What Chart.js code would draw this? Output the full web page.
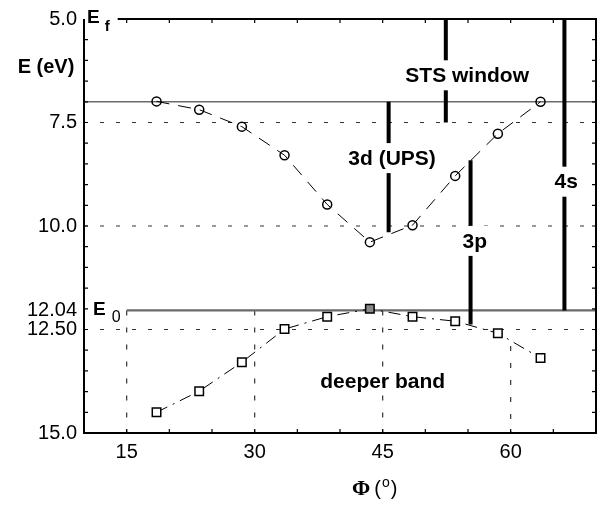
<!DOCTYPE html>
<html>
<head>
<meta charset="utf-8">
<script src="https://cdn.jsdelivr.net/npm/chart.js@4.4.0/dist/chart.umd.min.js"></script>
<style>
  html, body { margin: 0; padding: 0; background: #fff; }
</style>
</head>
<body>
<canvas id="grafico" width="601" height="510"></canvas>
<script>
// emission angle Φ (deg) and binding energies (eV) of the two bands
const phi = [18.5, 23.5, 28.5, 33.5, 38.5, 43.5, 48.5, 53.5, 58.5, 63.5];
const upperBand = [6.99, 7.19, 7.60, 8.29, 9.48, 10.39, 9.98, 8.79, 7.77, 7.00];
const deeperBand = [14.50, 13.99, 13.29, 12.49, 12.19, 12.00, 12.19, 12.30, 12.59, 13.19];

const xTicks = [15, 30, 45, 60];
const yTicks = [5.0, 7.5, 10.0, 12.04, 12.5, 15.0];
const yTickLabels = ['5.0', '7.5', '10.0', '12.04', '12.50', '15.0'];

// dotted reference energies across the whole plot
const dottedLevels = [7.5, 10.0, 12.5];
// solid grey levels and the angle where each one starts
const solidLevels = [7.0, 12.04];
const solidFrom = [10, 15];
// dotted verticals in the lower panel
const dropPhi = [15, 30, 45, 60];
const dropFrom = [12.04, 12.04, 12.04, 12.9];

// thick bars marking the probing windows
const barNames = ['STS window', '3d (UPS)', '3p', '4s'];
const barPhi = [52.4, 45.7, 55.3, 66.3];
const barTop = [5.0, 7.0, 8.41, 5.0];
const barBottom = [7.5, 10.15, 12.38, 12.04];
const barLabelPhi = [54.9, 46.1, 55.8, 66.5];
const barLabelE = [6.36, 8.36, 10.36, 8.93];

const FONT = "'Liberation Sans', Arial, sans-serif";

function seg(x1, y1, x2, y2) {
  return [{ x: x1, y: y1 }, { x: x2, y: y2 }];
}

const datasets = [];

datasets.push({
  data: phi.map((p, i) => ({ x: p, y: upperBand[i] })),
  showLine: true, borderColor: '#000', borderWidth: 1, borderDash: [13, 9],
  pointStyle: 'circle', pointRadius: 4.5, pointBorderWidth: 1.5,
  pointBorderColor: '#000', pointBackgroundColor: 'rgba(0,0,0,0)', order: 2
});

const minIdx = deeperBand.indexOf(Math.min(...deeperBand));
datasets.push({
  data: phi.map((p, i) => ({ x: p, y: deeperBand[i] })),
  showLine: true, borderColor: '#000', borderWidth: 1, borderDash: [12, 6, 2, 6],
  pointStyle: 'rect', pointRadius: 6, pointBorderWidth: 1.5,
  pointBorderColor: '#000',
  pointBackgroundColor: deeperBand.map((v, i) => i === minIdx ? '#888' : '#fff'),
  order: 2
});

dottedLevels.forEach(e => datasets.push({
  data: seg(10, e, 70, e), showLine: true, borderColor: '#333', borderWidth: 1.2,
  borderDash: [4, 12], pointRadius: 0, order: 5
}));

solidLevels.forEach((e, i) => datasets.push({
  data: seg(solidFrom[i], e, 70, e), showLine: true, borderColor: '#6a6a6a',
  borderWidth: i === 0 ? 1.5 : 2.2, pointRadius: 0, order: 4
}));

dropPhi.forEach((p, i) => datasets.push({
  data: seg(p, dropFrom[i], p, 15), showLine: true, borderColor: '#333', borderWidth: 1.2,
  borderDash: [5, 12], pointRadius: 0, order: 5
}));

barPhi.forEach((p, i) => datasets.push({
  data: seg(p, barTop[i], p, barBottom[i]), showLine: true, borderColor: '#000',
  borderWidth: 4, pointRadius: 0, order: 1
}));

// frame, inward ticks and all the text drawn over the plot
const overlay = {
  id: 'overlay',
  afterDraw(chart) {
    const { ctx, chartArea: a, scales: { x, y } } = chart;
    ctx.save();
    ctx.fillStyle = '#000';

    // E_f at the top left corner
    ctx.textBaseline = 'middle';
    ctx.textAlign = 'left';
    ctx.font = 'bold 19px ' + FONT;
    ctx.fillText('E', a.left + 3, a.top - 1);
    const eW = ctx.measureText('E').width;
    ctx.font = 'bold 15px ' + FONT;
    ctx.fillText('f', a.left + 3 + eW + 5, a.top + 8);
    const efEnd = a.left + 3 + eW + 5 + ctx.measureText('f').width + 8;

    // frame
    ctx.strokeStyle = '#000';
    ctx.lineWidth = 2;
    ctx.beginPath();
    ctx.moveTo(efEnd, a.top);
    ctx.lineTo(a.right, a.top);
    ctx.lineTo(a.right, a.bottom);
    ctx.lineTo(a.left, a.bottom);
    ctx.lineTo(a.left, a.top);
    ctx.stroke();

    // inward ticks
    ctx.lineWidth = 1.2;
    ctx.beginPath();
    for (let v = 15; v < 70; v += 5) {
      const px = x.getPixelForValue(v);
      ctx.moveTo(px, a.bottom); ctx.lineTo(px, a.bottom - 4);
      if (px > efEnd) { ctx.moveTo(px, a.top); ctx.lineTo(px, a.top + 4); }
    }
    for (let v = 5.5; v < 15; v += 0.5) {
      const py = y.getPixelForValue(v);
      ctx.moveTo(a.left, py); ctx.lineTo(a.left + 4, py);
      ctx.moveTo(a.right, py); ctx.lineTo(a.right - 4, py);
    }
    ctx.stroke();

    // bar labels on a white box that breaks the bar
    ctx.font = 'bold 21px ' + FONT;
    ctx.textAlign = 'center';
    barNames.forEach((name, i) => {
      const cx = x.getPixelForValue(barLabelPhi[i]);
      const cy = y.getPixelForValue(barLabelE[i]);
      const w = ctx.measureText(name).width;
      ctx.fillStyle = '#fff';
      ctx.fillRect(cx - w / 2 - 1, cy - 15, w + 2, 30);
      ctx.fillStyle = '#000';
      ctx.fillText(name, cx, cy + 1);
    });

    ctx.fillText('deeper band', x.getPixelForValue(45), y.getPixelForValue(13.77));

    // E_0 next to the lower solid level
    ctx.textAlign = 'left';
    ctx.font = 'bold 19px ' + FONT;
    const e0y = y.getPixelForValue(12.04);
    ctx.fillText('E', a.left + 9, e0y - 1);
    ctx.font = '16px ' + FONT;
    ctx.fillText('0', a.left + 9 + eW + 6, e0y + 7);

    // y axis title
    ctx.textAlign = 'center';
    ctx.font = 'bold 20px ' + FONT;
    ctx.fillText('E (eV)', 46, 67);

    // x axis title: Φ (°)
    ctx.textAlign = 'left';
    let tx = 352;
    const ty = 489;
    ctx.font = "bold 22px 'Liberation Serif', 'Times New Roman', serif";
    ctx.fillText('Φ', tx, ty);
    tx += ctx.measureText('Φ').width + 4;
    ctx.font = '20px ' + FONT;
    ctx.fillText('(', tx, ty);
    tx += ctx.measureText('(').width + 1;
    ctx.font = '14px ' + FONT;
    ctx.fillText('o', tx, ty - 6);
    tx += ctx.measureText('o').width + 1;
    ctx.font = '20px ' + FONT;
    ctx.fillText(')', tx, ty);

    ctx.restore();
  }
};

const chart = new Chart(document.getElementById('grafico').getContext('2d'), {
  type: 'scatter',
  data: { datasets },
  options: {
    responsive: false,
    animation: false,
    layout: { padding: { top: 13, right: 5, left: 0, bottom: 0 }, autoPadding: false },
    plugins: { legend: { display: false }, tooltip: { enabled: false } },
    elements: { line: { tension: 0, fill: false } },
    scales: {
      x: {
        type: 'linear', min: 10, max: 70,
        grid: { display: false, drawTicks: false },
        border: { display: false },
        afterBuildTicks: s => { s.ticks = xTicks.map(v => ({ value: v })); },
        afterFit: s => { s.height = 77; },
        ticks: { font: { family: FONT, size: 20 }, color: '#000', padding: 7, maxRotation: 0, autoSkip: false }
      },
      y: {
        type: 'linear', reverse: true, min: 5, max: 15,
        grid: { display: false, drawTicks: false },
        border: { display: false },
        afterBuildTicks: s => { s.ticks = yTicks.map(v => ({ value: v })); },
        afterFit: s => { s.width = 84; },
        ticks: {
          font: { family: FONT, size: 20 }, color: '#000', padding: 7, autoSkip: false,
          callback: (v, i) => yTickLabels[i]
        }
      }
    }
  },
  plugins: [overlay]
});
</script>
</body>
</html>
